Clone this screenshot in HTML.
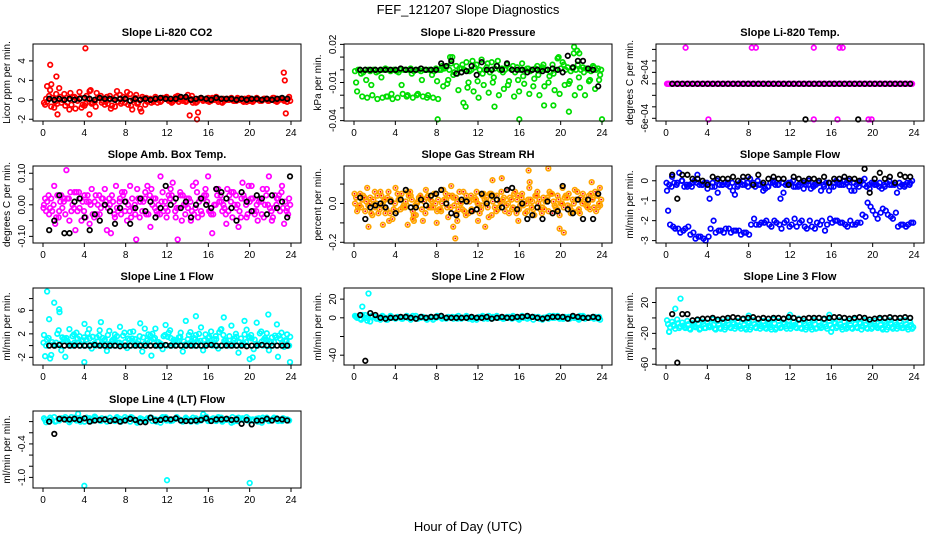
<!DOCTYPE html>
<html><head><meta charset="utf-8"><style>
body{margin:0;background:#fff;}
svg{display:block;font-family:"Liberation Sans",sans-serif;}
</style></head><body>
<svg id="chart" width="936" height="540" viewBox="0 0 936 540">
<text x="468" y="14" text-anchor="middle" font-size="13">FEF_121207  Slope Diagnostics</text>
<text x="468" y="531" text-anchor="middle" font-size="13">Hour of Day (UTC)</text>
</svg>
<script>
const xTicks=[0,4,8,12,16,20,24];
const co2A=[-0.3,0.4,-0.8,1.2,0.6,-1.0,0.3,0.8,-0.6,0.9,-0.2,0.2,-0.5,0.4,-0.7,0.5,-0.3,0.6,0.2,-0.9,-0.5,0.1,0.3,-0.2,0.2,-0.1,0.3,0.0,-0.2,0.1,-0.3,0.2,0.1,-0.1,0.3,-0.2,0.0,0.2,-0.1,0.1,-0.2,0.0,0.2,-0.1,0.1,0.0,-0.2,0.1,-0.2];
const co2B=[0.1,-0.7,0.6,-0.3,0.2,-0.5,0.1,-0.8,0.4,-0.4,0.7,-0.3,0.3,-0.6,0.9,-0.2,0.8,-1.0,-0.4,0.3,-0.2,0.0,-0.3,0.2,0.1,-0.2,0.4,-0.1,0.5,-0.3,0.0,-0.1,0.2,0.1,-0.2,0.1,0.0,-0.1,0.1,-0.2,0.2,-0.1,0.0,0.1,-0.1,0.2,0.0,-0.1,0.3];
const co2C=[-0.5,1.0,-0.2,0.3,-0.6,0.7,-0.9,0.2,-0.4,1.0,-0.7,0.4,-0.2,-0.9,0.3,-0.4,0.2,-0.6,0.5,-1.2,0.2,-0.3,0.1,-0.1,0.3,-0.3,0.0,0.2,-0.1,0.4,-0.2,0.1,-0.1,0.2,0.0,-0.3,0.1,0.0,0.2,-0.1,0.1,-0.2,0.1,0.0,-0.1,0.2,-0.1,0.0,0.1];
const co2D=[-0.2,0.2,-0.4,0.0,-0.3,0.3,-0.1,-0.5,0.1,-0.3,0.2,-0.1,-0.4,0.1,-0.2,0.3,-0.5,0.0,-0.3,0.1,-0.1,-0.2,0.0,0.1,-0.1,0.0,-0.2,0.1,0.0,-0.1,0.1,0.0,-0.2,0.0,0.1,-0.1,0.0,-0.1,0.0,0.1,-0.1,0.0,-0.1,0.1,0.0,-0.1,0.1,0.0,-0.1];
const co2OutT=[4.1,0.7,1.3,1.4,4.5,14.2,14.9,15.0,23.3,23.4,23.5,0.8,0.4];
const co2OutV=[5.3,3.6,2.4,-1.5,-1.5,-1.6,-2.0,-1.3,2.8,2.0,-1.4,1.6,1.4];
const co2Black=[0.1,0.0,0.1,0.0,0.1,0.0,0.1,0.2,0.1,0.0,0.2,0.1,0.1,0.0,0.1,0.1,-0.1,0.1,0.0,0.1,0.0,0.1,0.2,0.1,0.1,0.1,0.3,0.3,0.0,0.1,0.2,0.1,0.0,0.2,0.1,0.1,0.1,0.0,0.1,0.0,0.1,0.1,0.0,0.1,0.0,0.1,0.2,0.1];

const prA=[-0.001,0.000,0.000,-0.001,0.000,0.000,0.001,-0.001,0.000,0.000,0.000,0.001,0.000,-0.001,0.000,0.000,0.001,0.000,0.002,0.005,0.003,0.001,0.006,0.000,0.004,0.008,0.002,0.006,0.003,0.001,0.004,0.000,0.002,0.005,0.001,0.000,0.003,0.002,0.000,0.004,0.009,0.006,0.002,0.001,0.004,0.002,0.000,0.003,0.001];
const prB=[-0.017,-0.021,-0.022,-0.020,-0.023,-0.022,-0.021,-0.023,-0.022,-0.019,-0.020,-0.022,-0.019,-0.021,-0.020,-0.022,-0.023,-0.013,-0.008,-0.004,-0.016,-0.026,-0.010,-0.017,-0.022,-0.012,-0.018,-0.006,-0.020,-0.015,-0.009,-0.021,-0.017,-0.011,-0.019,-0.007,-0.020,-0.013,-0.005,-0.016,-0.019,-0.012,-0.009,-0.020,-0.014,-0.020,-0.008,-0.015,-0.004];
const prC=[-0.010,-0.003,-0.008,-0.012,-0.002,-0.006,-0.021,-0.019,-0.001,-0.012,-0.021,-0.003,-0.020,-0.008,-0.022,-0.004,-0.009,0.003,-0.011,0.010,-0.003,0.004,-0.014,0.007,-0.009,-0.003,0.005,-0.010,0.007,-0.002,-0.012,0.003,-0.008,-0.005,0.001,-0.013,-0.004,0.004,-0.010,-0.003,0.010,0.004,-0.011,0.013,-0.006,-0.002,-0.009,0.002,-0.008];
const prD=[0.000,-0.002,0.000,0.000,-0.001,0.000,0.000,0.000,-0.002,0.000,0.000,-0.001,0.000,0.000,0.000,-0.001,0.000,0.001,0.000,-0.002,0.001,0.000,-0.001,0.002,0.000,0.000,-0.002,0.001,0.000,0.000,0.001,-0.002,0.000,0.000,-0.001,0.001,0.000,0.000,-0.002,0.000,0.001,0.000,-0.001,0.000,0.000,0.001,-0.001,0.000,0.000];
const prOutT=[8.1,16.0,24.0,20.8,21.3,21.6,21.8,9.3,13.6,18.4,19.3,10.8];
const prOutV=[-0.039,-0.039,-0.039,-0.033,0.018,0.015,0.013,0.010,-0.029,-0.028,-0.028,-0.029];
const prBlack=[0.000,0.000,0.000,0.000,0.000,0.000,0.000,0.000,0.001,0.000,0.000,0.000,0.001,0.000,0.000,0.000,0.005,0.003,0.007,-0.003,-0.002,-0.001,0.003,-0.004,0.006,0.000,0.000,0.003,0.000,0.005,0.000,0.000,0.000,-0.002,0.000,0.000,-0.001,0.000,0.001,0.000,-0.002,0.011,0.002,0.007,0.007,0.001,0.000,-0.013];

const tmA=[0,0,0,0,0,0,0,0,0,0,0,0,0,0,0,0,0,0,0,0,0,0,0,0,0,0,0,0,0,0,0,0,0,0,0,0,0,0,0,0,0,0,0,0,0,0,0,0,0];
const tmB=[0,0,0,0,0,0,0,0,0,0,0,0,0,0,0,0,0,0,0,0,0,0,0,0,0,0,0,0,0,0,0,0,0,0,0,0,0,0,0,0,0,0,0,0,0,0,0,0,0];
const tmC=[0,0,0,0,0,0,0,0,0,0,0,0,0,0,0,0,0,0,0,0,0,0,0,0,0,0,0,0,0,0,0,0,0,0,0,0,0,0,0,0,0,0,0,0,0,0,0,0,0];
const tmOutT=[1.9,8.3,8.7,14.3,16.8,17.1,4.1,14.3,16.6,19.6,19.9];
const tmOutV=[0.00063,0.00063,0.00063,0.00063,0.00063,0.00063,-0.00062,-0.00062,-0.00062,-0.00062,-0.00062];
const tmBlack=[0,0,0,0,0,0,0,0,0,0,0,0,0,0,0,0,0,0,0,0,0,0,0,0,0,0,0,0,0,0,0,0,0,0,0,0,0,0,0,0,0,0,0,0,0,0,0,0];
const tmBlackOutT=[13.5,18.6];
const tmBlackOutV=[-0.00062,-0.00062];

const abA=[0.00,-0.03,0.06,-0.02,0.02,-0.05,0.04,-0.01,0.03,-0.06,0.01,-0.03,0.05,0.00,-0.04,0.02,-0.02,0.06,-0.03,0.01,0.04,-0.07,0.02,0.09,-0.01,0.05,-0.04,0.03,0.00,-0.05,0.07,-0.02,0.03,-0.03,0.05,0.01,-0.06,0.04,-0.01,0.02,-0.04,0.06,0.00,-0.03,0.05,-0.05,0.02,0.06,-0.01];
const abB=[-0.02,0.02,-0.04,0.03,0.11,-0.02,0.04,-0.05,0.01,0.05,-0.03,0.02,-0.08,0.03,-0.01,0.04,-0.05,0.02,0.05,-0.02,0.06,0.00,-0.03,0.04,-0.02,0.07,-0.11,0.03,-0.01,0.06,-0.04,0.02,0.09,-0.03,0.05,0.00,-0.02,0.04,-0.07,0.03,0.06,-0.02,0.01,-0.04,0.09,-0.01,0.03,-0.06,0.02];
const abC=[0.02,-0.01,-0.06,0.01,-0.03,0.04,-0.08,0.02,-0.04,0.00,0.03,-0.01,0.01,-0.09,0.06,-0.03,0.01,-0.04,-0.11,0.02,-0.03,0.05,-0.02,0.01,-0.04,0.03,-0.01,-0.05,0.02,-0.02,0.04,-0.03,0.01,-0.09,0.03,-0.02,0.05,-0.04,0.00,0.07,-0.03,0.02,-0.05,0.05,0.00,-0.04,0.02,-0.01,-0.03];
const abD=[0.01,-0.02,0.03,-0.01,0.02,0.00,-0.02,0.01,0.03,-0.03,0.00,0.02,-0.01,0.01,-0.02,0.03,0.00,-0.01,0.02,0.01,-0.03,0.02,0.00,-0.02,0.03,0.01,-0.01,0.00,0.02,-0.03,0.01,0.03,-0.02,0.00,0.01,-0.01,0.03,0.00,-0.02,0.02,0.01,-0.03,0.02,0.00,-0.01,0.03,-0.02,0.01,0.00];
const abE=[-0.01,0.03,0.00,-0.04,0.01,0.02,-0.01,0.04,-0.02,0.01,-0.04,0.03,0.00,0.02,-0.03,0.01,0.04,-0.02,0.00,-0.04,0.02,0.03,-0.01,-0.03,0.01,0.02,-0.02,0.04,-0.03,0.01,-0.01,0.02,0.05,-0.02,0.00,0.03,-0.03,0.01,0.03,-0.04,0.00,0.02,-0.02,0.01,0.03,-0.02,0.00,0.04,-0.02];
const abOutT=[23.9];
const abOutV=[0.09];
const abBlack=[-0.08,-0.05,0.03,-0.09,-0.09,0.01,0.02,-0.04,-0.08,-0.03,-0.05,0.00,-0.02,-0.06,-0.01,0.01,-0.06,-0.01,0.02,-0.02,0.01,-0.04,-0.01,0.06,0.00,0.02,-0.01,0.01,-0.04,0.00,0.02,0.00,-0.01,0.05,0.04,0.02,-0.01,-0.05,0.04,0.01,-0.02,0.03,0.02,-0.03,0.03,-0.01,0.01,-0.04];

const rhA=[0.00,0.05,-0.04,0.03,-0.02,0.06,-0.05,0.02,0.08,-0.03,0.01,0.04,-0.06,0.03,0.07,-0.02,0.05,-0.04,0.02,0.09,-0.05,0.01,0.04,-0.03,0.06,-0.01,0.03,-0.06,0.04,0.00,0.07,-0.03,0.02,0.05,-0.04,0.01,0.06,-0.02,0.03,-0.05,0.04,0.08,-0.01,0.02,-0.04,0.05,0.00,0.03,-0.02];
const rhB=[-0.04,0.02,0.08,-0.06,0.04,-0.01,0.03,-0.08,0.05,-0.02,0.06,-0.04,0.01,-0.09,0.04,-0.02,0.02,0.07,-0.07,0.03,-0.03,0.06,-0.05,0.02,-0.01,0.05,-0.07,0.04,-0.02,0.03,-0.05,0.05,-0.03,0.01,0.08,-0.06,0.02,-0.03,0.06,-0.01,-0.06,0.03,-0.02,0.07,-0.05,0.02,-0.03,0.06,-0.01];
const rhC=[0.03,-0.02,0.01,-0.05,0.00,0.04,-0.03,0.01,-0.04,0.05,-0.01,0.02,0.00,-0.03,0.03,0.01,-0.04,0.00,-0.02,0.04,0.01,-0.03,0.02,-0.04,0.00,0.04,-0.02,0.01,-0.03,0.02,0.00,-0.02,0.04,-0.01,0.02,-0.03,0.00,0.03,-0.04,0.01,0.02,-0.02,0.05,0.00,-0.03,0.01,0.04,-0.02,0.00];
const rhD=[-0.02,0.04,-0.01,0.02,-0.05,0.01,0.06,-0.03,0.02,-0.01,0.04,-0.06,0.03,0.01,-0.02,0.05,-0.03,0.02,0.04,-0.01,0.06,-0.04,0.01,0.03,-0.05,0.02,0.05,-0.02,0.01,-0.04,0.03,0.06,-0.01,-0.05,0.02,0.04,-0.03,0.01,0.05,-0.02,0.00,0.04,-0.05,0.02,0.03,-0.01,0.05,-0.04,0.02];
const rhE=[0.05,-0.01,0.03,0.00,0.06,-0.03,0.02,-0.05,0.00,0.03,-0.02,0.06,-0.01,0.04,-0.05,0.02,0.00,-0.03,0.05,-0.02,0.03,0.00,-0.06,0.04,0.02,-0.03,0.01,0.05,-0.04,0.06,-0.01,0.02,-0.05,0.03,0.00,-0.02,0.04,-0.05,0.02,0.05,-0.03,0.00,0.03,-0.04,0.06,0.00,-0.02,0.02,0.04];
const rhOutT=[1.4,2.8,3.4,5.2,5.8,8.0,9.6,9.8,10.0,12.7,13.4,14.3,15.9,16.9,17.0,18.8,19.9,20.3,23.0,23.8,5.7,12.0];
const rhOutV=[-0.12,-0.11,-0.09,-0.11,-0.09,-0.10,-0.12,-0.18,-0.09,-0.12,0.12,0.13,-0.09,0.17,0.11,0.18,-0.13,-0.15,0.11,0.08,-0.08,-0.09];
const rhBlack=[0.03,-0.08,-0.02,-0.01,0.00,-0.02,0.01,-0.05,0.02,0.07,-0.02,-0.02,0.02,-0.01,0.04,0.05,0.07,0.00,-0.05,-0.06,0.02,0.01,-0.04,-0.03,0.05,0.00,0.04,0.02,-0.02,0.07,0.08,-0.03,0.00,-0.08,-0.06,-0.02,-0.08,0.01,-0.05,-0.04,0.09,-0.03,-0.05,0.02,-0.08,0.02,-0.08,0.05];

const sfA=[-0.5,0.2,-0.1,0.0,-0.3,-0.1,0.3,-0.2,-0.4,-0.1,-0.6,-0.2,-0.1,-0.5,-0.2,0.0,-0.3,-0.1,-0.2,-0.5,-0.3,0.0,-0.2,-0.6,-0.1,-0.3,-0.2,-0.4,0.0,-0.2,-0.1,-0.3,-0.5,-0.1,-0.2,0.0,-0.3,-0.5,-0.1,0.1,-0.4,-0.2,-0.1,-0.3,-0.2,-0.1,-0.3,-0.2,-0.1];
const sfB=[-0.2,-0.1,0.4,-0.3,-0.2,0.0,-0.2,-0.1,-0.9,-0.3,-0.2,-0.1,-0.3,-0.7,-0.1,-0.2,0.1,-0.3,-0.2,-0.4,-0.1,-0.2,-0.9,-0.2,-0.1,-0.3,-0.1,-0.2,-0.4,-0.2,-0.5,-0.1,-0.3,0.0,-0.2,-0.1,-0.5,-0.2,0.0,-0.3,-0.1,-0.2,-0.4,-0.1,-0.2,-0.6,-0.2,-0.1,0.0];
const sfC=[-1.5,-2.3,-2.4,-2.5,-2.3,-2.6,-2.8,-2.9,-2.8,-2.0,-2.5,-2.6,-2.4,-2.5,-2.5,-2.6,-2.7,-1.9,-2.2,-2.1,-2.2,-2.0,-2.2,-2.1,-2.3,-1.9,-2.1,-2.3,-2.0,-2.4,-2.2,-2.5,-1.9,-2.0,-2.1,-2.2,-2.0,-2.2,-2.1,-1.8,-1.3,-1.7,-1.6,-1.5,-1.8,-1.6,-2.2,-2.3,-2.1];
const sfD=[-2.2,-2.4,-2.6,-2.4,-2.7,-2.9,-2.8,-3.0,-2.4,-2.6,-2.5,-2.4,-2.6,-2.5,-2.7,-2.6,-2.2,-2.2,-2.1,-2.0,-2.3,-2.1,-2.4,-2.0,-2.2,-2.3,-2.0,-2.4,-2.3,-2.1,-2.0,-2.2,-2.1,-2.0,-2.1,-2.3,-2.2,-2.1,-1.7,-1.1,-1.5,-1.9,-1.4,-1.7,-1.9,-2.3,-2.2,-2.2,-2.1];
const sfE=[-0.1,-0.3,-0.2,0.0,-0.2,-0.3,-0.1,-0.2,-0.1,-0.3,0.0,-0.2,-0.2,-0.1,-0.3,-0.2,-0.1,-0.2,0.0,-0.2,-0.3,-0.1,-0.2,-0.1,-0.2,0.0,-0.3,-0.1,-0.2,-0.3,-0.1,-0.2,-0.1,-0.3,-0.1,-0.2,0.0,-0.1,-0.3,-0.2,-0.2,-0.1,-0.3,-0.2,0.0,-0.2,-0.1,-0.3,-0.2];
const sfBlack=[0.3,-0.9,0.3,0.3,0.1,0.1,0.0,-0.2,0.2,0.1,0.1,0.1,0.2,0.0,0.2,0.2,-0.2,0.3,-0.1,0.1,0.2,0.1,0.1,-0.2,0.2,0.1,0.0,0.1,0.1,0.0,0.2,-0.1,0.1,0.1,0.2,0.1,0.1,0.0,0.6,-0.6,0.1,0.4,0.1,0.2,-0.1,0.3,0.2,0.2];

const l1A=[1.8,4.5,7.3,6.2,1.2,2.8,0.5,1.6,3.7,1.2,0.4,2.6,1.0,0.3,1.9,3.2,0.6,2.3,1.1,3.8,0.4,1.7,2.9,0.2,3.5,1.3,0.8,2.2,4.2,0.6,1.8,3.1,0.3,2.4,1.1,2.8,0.5,3.4,1.5,0.2,2.7,1.2,3.9,0.7,2.1,1.4,3.6,0.4,1.9];
const l1B=[0.0,-1.6,0.5,-0.8,1.3,0.0,2.2,0.8,1.0,-0.5,1.4,0.2,-0.9,0.8,1.6,0.1,-0.4,1.2,0.4,-1.0,0.9,2.0,0.0,-0.6,1.5,0.3,0.8,-1.0,1.1,0.0,0.6,-0.8,1.3,0.2,-0.5,1.8,0.0,0.9,-1.2,0.4,1.5,-0.6,0.2,1.0,-0.8,0.6,1.7,-0.2,0.0];
const l1C=[-1.8,-2.2,0.0,0.3,-1.9,0.0,0.2,0.0,0.0,0.1,0.0,0.0,0.3,0.0,0.0,0.2,0.0,0.0,0.0,0.1,0.0,-1.7,0.0,0.2,0.0,0.0,0.1,0.0,0.0,0.3,0.0,0.0,0.2,0.0,0.0,0.0,0.1,0.0,0.0,0.2,0.0,-2.0,0.0,0.0,0.1,0.0,-1.9,0.0,0.0];
const l1D=[1.0,0.6,2.0,1.4,0.8,1.6,1.2,0.9,2.1,1.5,0.7,1.3,1.8,1.0,0.5,1.7,1.2,2.4,0.8,1.4,1.9,1.1,0.6,1.6,2.2,1.0,1.4,0.7,1.8,1.3,2.0,0.9,1.5,1.1,2.3,0.8,1.6,1.2,0.6,1.9,1.4,1.0,2.1,1.3,0.7,1.7,1.2,0.9,1.5];
const l1E=[0.5,1.3,0.2,2.6,1.1,0.4,1.9,0.6,1.4,2.8,0.3,1.7,0.9,2.5,1.2,0.5,2.2,1.0,0.3,1.6,2.9,0.7,1.3,0.4,1.8,2.6,0.6,1.5,0.2,2.3,1.1,0.8,1.9,0.4,1.6,2.7,0.9,0.3,2.0,1.2,0.6,1.8,0.3,2.4,1.0,0.5,1.4,2.2,0.8];
const l1OutT=[0.4,4.0,23.9,14.8,17.5,21.8,1.6,5.6,19.5,20.0];
const l1OutV=[9.2,-2.8,-2.8,5.0,4.8,5.3,5.7,4.0,4.2,-2.3];
const l1Black=[0,0,0.1,0,0,0,0,0,0,0.1,0,0,0,0,-0.1,0,0,0,0,0,0,0,0,0.1,0,0,0,0,0,0,0,0,0.1,0,0,0,0,0,0,-0.1,0,0,0.1,0,0,0,0,0];

const l2A=[2,-1,3,-4,1,-2,0,2,-1,0,1,-2,2,0,-1,1,0,2,-1,0,1,-1,2,0,-2,1,0,-1,2,0,1,-1,0,2,-1,1,0,-2,1,0,2,-1,0,1,-1,2,0,1,-1];
const l2B=[0,3,-3,1,-1,2,-2,0,1,-1,0,2,-1,1,0,-2,1,0,1,-1,2,0,-1,0,1,-1,2,0,0,-1,1,0,-2,1,0,1,-1,0,2,0,-1,1,-1,0,2,-1,0,1,-2];
const l2C=[1,-2,0,2,-1,1,-2,1,0,-1,2,0,-1,1,-2,0,2,-1,0,1,-1,0,1,-2,0,2,-1,1,0,-1,0,2,-1,0,1,-2,1,0,-1,2,0,-1,1,0,-2,1,0,-1,1];
const l2OutT=[0.8,1.4];
const l2OutV=[12,26];
const l2Black=[3,-46,5,3,0,-1,0,0,1,1,0,-1,1,0,1,1,2,0,0,0,0,0,1,0,0,1,-1,0,1,0,0,1,1,2,1,0,-1,0,1,1,1,-1,2,1,0,0,1,0];

const l3A=[-3,-5,-2,-6,-4,-7,-3,-5,-6,-2,-4,-5,-3,-6,-4,-2,-5,-3,-6,-4,-5,-2,-4,-6,-3,-5,-1,-4,-6,-3,-5,-2,-4,-6,-3,-5,-4,-2,-6,-3,-5,-4,-2,-5,-3,-6,-4,-3,-5];
const l3B=[-18,-10,-13,-12,-14,-11,-15,-13,-12,-14,-13,-15,-12,-14,-11,-13,-15,-12,-14,-13,-12,-15,-13,-11,-14,-12,-13,-15,-12,-14,-13,-11,-18,-13,-12,-14,-13,-12,-15,-13,-14,-12,-13,-15,-12,-14,-13,-12,-14];
const l3C=[-8,-9,-7,-10,-8,-9,-7,-8,-10,-9,-8,-7,-9,-8,-10,-9,-7,-8,-9,-10,-8,-7,-9,-8,-10,-9,-8,-7,-9,-8,-10,-8,-9,-7,-8,-10,-9,-8,-7,-9,-8,-10,-9,-8,-7,-9,-10,-8,-9];
const l3D=[-12,-14,-11,-13,-15,-12,-14,-13,-11,-15,-14,-12,-13,-11,-14,-15,-12,-13,-11,-14,-15,-13,-12,-14,-11,-13,-14,-12,-15,-13,-12,-14,-13,-11,-15,-12,-14,-13,-11,-14,-12,-13,-15,-12,-14,-11,-13,-15,-12];
const l3OutT=[0.9,1.4,0.3,12.0,15.8,8.0];
const l3OutV=[12,25,-18,4,4,3];
const l3Black=[5,-58,5,5,-3,-2,-1,-1,0,-2,-1,0,1,0,-1,0,1,-1,0,-1,0,0,-1,1,0,-2,-1,0,0,0,-1,0,1,1,0,-1,0,1,0,-2,-1,0,0,1,0,0,1,0];

const l4A=[0.06,0.00,0.08,0.02,0.05,-0.01,0.07,0.03,0.00,0.06,0.09,0.02,0.04,0.07,0.01,0.05,0.08,0.00,0.03,0.06,0.02,0.07,0.04,-0.02,0.08,0.01,0.05,0.03,0.07,0.00,0.06,0.02,0.09,0.04,0.01,0.07,0.03,-0.02,0.06,0.04,0.08,0.02,0.05,-0.02,0.07,0.03,0.06,0.01,0.04];
const l4B=[-0.01,0.04,0.01,0.06,0.03,0.08,0.02,0.05,0.07,0.01,0.04,0.06,0.00,0.03,0.08,0.02,0.05,0.07,-0.02,0.04,0.06,0.01,0.03,0.08,0.05,0.02,0.06,0.00,0.04,0.07,0.03,0.05,0.01,0.06,0.08,0.02,0.04,0.00,0.07,0.03,0.05,0.02,0.06,0.04,0.01,0.07,0.03,0.05,0.02];
const l4C=[0.03,0.07,0.00,0.05,0.08,0.02,0.04,0.00,0.06,0.03,0.07,0.01,0.05,0.02,0.06,0.00,0.04,0.08,0.01,0.05,0.03,0.07,0.00,0.06,0.02,0.04,0.08,0.01,0.05,0.03,0.00,0.07,0.04,0.02,0.06,0.00,0.05,0.08,0.01,0.06,0.02,0.04,0.00,0.07,0.03,0.05,0.01,0.06,0.03];
const l4OutT=[4.0,12.0,20.0,3.4,15.5];
const l4OutV=[-1.15,-1.05,-1.10,0.14,0.13];
const l4Black=[0.00,-0.22,0.05,0.04,0.04,0.05,0.03,0.06,0.00,0.02,0.03,0.04,0.01,0.03,0.00,0.02,0.05,0.03,-0.01,-0.01,0.07,0.02,0.03,0.05,0.04,0.06,0.02,0.01,0.01,0.02,0.03,0.06,0.01,0.04,0.04,0.05,0.03,0.04,-0.04,0.03,-0.05,0.02,0.02,0.05,0.02,0.05,0.04,0.02];

const NS='http://www.w3.org/2000/svg';
const svg=document.getElementById('chart');
function mk(tag,attrs,parent){const e=document.createElementNS(NS,tag);for(const k in attrs)e.setAttribute(k,attrs[k]);(parent||svg).appendChild(e);return e;}

const panels=[
{id:'co2',title:'Slope Li-820 CO2',ylab:'Licor ppm per min.',c:0,r:0,ymin:-2.18,ymax:5.74,ticks:[-2,0,2,4],labels:['-2','0','2','4'],color:'#ff0000',rows:[co2A,co2B,co2C,co2D],outT:co2OutT,outV:co2OutV,black:co2Black},
{id:'pressure',title:'Slope Li-820 Pressure',ylab:'kPa per min.',c:1,r:0,ymin:-0.0403,ymax:0.0203,ticks:[0.02,0.01,0,-0.01,-0.02,-0.03,-0.04],labels:['0.02','','','-0.01','','','-0.04'],color:'#00dd00',rows:[prA,prB,prC,prD],outT:prOutT,outV:prOutV,black:prBlack},
{id:'temp',title:'Slope Li-820 Temp.',ylab:'degrees C per min.',c:2,r:0,ymin:-0.000647,ymax:0.000694,ticks:[0.0006,0.0004,0.0002,0,-0.0002,-0.0004,-0.0006],labels:['','','2e-04','','','','-6e-04'],color:'#ff00ff',rows:[tmA,tmB,tmC],outT:tmOutT,outV:tmOutV,black:tmBlack,bOutT:tmBlackOutT,bOutV:tmBlackOutV},
{id:'ambbox',title:'Slope Amb. Box Temp.',ylab:'degrees C per min.',c:0,r:1,ymin:-0.121,ymax:0.123,ticks:[0.1,0.05,0,-0.05,-0.1],labels:['0.10','','0.00','','-0.10'],color:'#ff00ff',rows:[abA,abB,abC,abD,abE],outT:[],outV:[],black:abBlack,bOutT:abOutT,bOutV:abOutV},
{id:'gasrh',title:'Slope Gas Stream RH',ylab:'percent per min.',c:1,r:1,ymin:-0.2036,ymax:0.193,ticks:[0.1,0,-0.1,-0.2],labels:['','0.0','','-0.2'],color:'#ffa500',dot:'#ff0000',rows:[rhA,rhB,rhC,rhD,rhE],outT:rhOutT,outV:rhOutV,black:rhBlack},
{id:'sampleflow',title:'Slope Sample Flow',ylab:'ml/min per min.',c:2,r:1,ymin:-3.12,ymax:0.74,ticks:[0,-1,-2,-3],labels:['0','-1','-2','-3'],color:'#0000ff',rows:[sfA,sfB,sfC,sfD,sfE],outT:[],outV:[],black:sfBlack},
{id:'line1',title:'Slope Line 1 Flow',ylab:'ml/min per min.',c:0,r:2,ymin:-3.3,ymax:9.8,ticks:[8,6,4,2,0,-2],labels:['','6','','2','','-2'],color:'#00ffff',rows:[l1A,l1B,l1C,l1D,l1E],outT:l1OutT,outV:l1OutV,black:l1Black},
{id:'line2',title:'Slope Line 2 Flow',ylab:'ml/min per min.',c:1,r:2,ymin:-50.5,ymax:31.9,ticks:[20,0,-20,-40],labels:['20','0','','-40'],color:'#00ffff',rows:[l2A,l2B,l2C],outT:l2OutT,outV:l2OutV,black:l2Black},
{id:'line3',title:'Slope Line 3 Flow',ylab:'ml/min per min.',c:2,r:2,ymin:-61,ymax:38.8,ticks:[20,0,-20,-40,-60],labels:['20','','-20','','-60'],color:'#00ffff',rows:[l3A,l3B,l3C,l3D],outT:l3OutT,outV:l3OutV,black:l3Black},
{id:'line4',title:'Slope Line 4 (LT) Flow',ylab:'ml/min per min.',c:0,r:3,ymin:-1.19,ymax:0.19,ticks:[0,-0.2,-0.4,-0.6,-0.8,-1.0],labels:['','','-0.4','','','-1.0'],color:'#00ffff',rows:[l4A,l4B,l4C],outT:l4OutT,outV:l4OutV,black:l4Black}
];
const colLeft=[33,344,656], rowTop=[44,166,288,411], W=268, H=77;
const rowT0=[0.1,0.3,0.2,0.4,0.05];

panels.forEach(p=>{
  const L=colLeft[p.c], T=rowTop[p.r];
  const g=mk('g',{});
  
  
  const xs=t=>L+10+t*(W-20)/24;
  const ys=v=>T+H-(v-p.ymin)/(p.ymax-p.ymin)*H;
  const tt=mk('text',{x:L+W/2,y:T-8,'text-anchor':'middle','font-size':'11','font-weight':'bold'},g);
  tt.textContent=p.title;
  
  
  const yl=mk('text',{x:0,y:0,'text-anchor':'middle','font-size':'10',transform:`translate(${L-23},${T+H/2}) rotate(-90)`},g);
  yl.textContent=p.ylab;
  
  
  const pg=mk('g',{fill:'none','stroke-width':'1.7'},g);
  
  
  const clip=(y)=>y>=T-2&&y<=T+H+2;
  const pt=(t,v,col,dot)=>{const y=ys(v);if(!clip(y))return;const c=mk('circle',{cx:xs(t).toFixed(1),cy:y.toFixed(1),r:'2.3',stroke:col},pg);
    
    
    if(dot){const d=mk('circle',{cx:xs(t).toFixed(1),cy:y.toFixed(1),r:'0.9',fill:dot,stroke:'none'},pg);
      
      }};
  p.rows.forEach((row,ri)=>{row.forEach((v,i)=>pt(rowT0[ri]+i*0.49,v,p.color,p.dot));});
  p.outT.forEach((t,i)=>pt(t,p.outV[i],p.color,p.dot));
  p.black.forEach((v,i)=>pt(0.6+i*0.49,v,'#000'));
  if(p.bOutT)p.bOutT.forEach((t,i)=>pt(t,p.bOutV[i],'#000'));
  const box=mk('rect',{x:L,y:T,width:W,height:H,fill:'none',stroke:'#000','stroke-width':'1'},g);
  
  
  xTicks.forEach(t=>{const x=xs(t);
    const l=mk('line',{x1:x,x2:x,y1:T+H,y2:T+H+4,stroke:'#000'},g);
    
    
    const tx=mk('text',{x:x,y:T+H+15,'text-anchor':'middle','font-size':'10'},g);
    tx.textContent=t;
    
    });
  p.ticks.forEach((v,i)=>{const y=ys(v);
    const l=mk('line',{x1:L-4,x2:L,y1:y,y2:y,stroke:'#000'},g);
    
    
    if(p.labels[i]){const tx=mk('text',{x:0,y:0,'text-anchor':'middle','font-size':'10',transform:`translate(${L-8},${y}) rotate(-90)`},g);
      tx.textContent=p.labels[i];
      
      }});
});
</script>
</body></html>
